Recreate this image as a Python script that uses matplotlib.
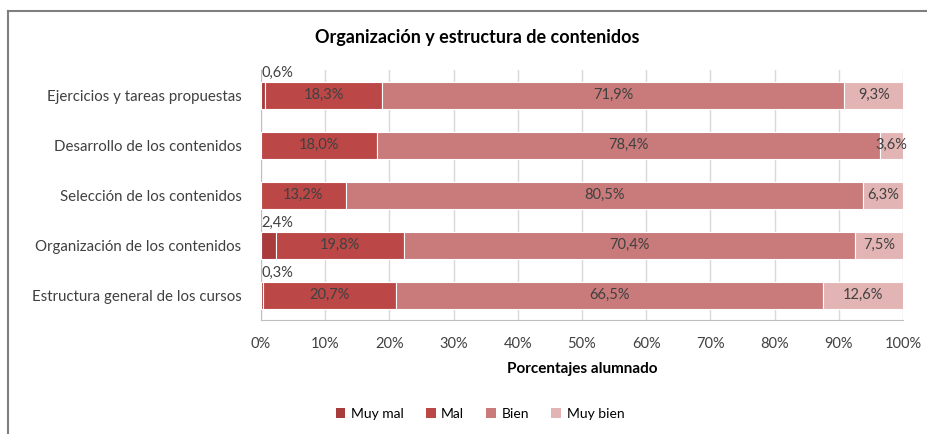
import matplotlib.pyplot as plt
from matplotlib.lines import Line2D
from matplotlib.patches import Patch

plt.rcParams['font.family'] = ['Lato', 'DejaVu Sans']

categories = [
    "Ejercicios y tareas propuestas",
    "Desarrollo de los contenidos",
    "Selección de los contenidos",
    "Organización de los contenidos",
    "Estructura general de los cursos",
]
series = ["Muy mal", "Mal", "Bien", "Muy bien"]
muy_mal = [0.6, 0.0, 0.0, 2.4, 0.3]
mal = [18.3, 18.0, 13.2, 19.8, 20.7]
bien = [71.9, 78.4, 80.5, 70.4, 66.5]
muy_bien = [9.3, 3.6, 6.3, 7.5, 12.6]
colors = ["#A83C3C", "#BC4747", "#C97A7A", "#E3B4B4"]

fig = plt.figure(figsize=(9.27, 4.34), dpi=100)
ax = fig.add_axes([261 / 927, 1 - 320 / 434, 642 / 927, 250 / 434])

y = list(range(len(categories)))[::-1]
left = [0.0] * len(categories)
txt = "#404040"
for name, vals, col in zip(series, [muy_mal, mal, bien, muy_bien], colors):
    ax.barh(y, vals, left=left, height=0.54, color=col, edgecolor="white",
            linewidth=0.8, zorder=3)
    for yi, l, v in zip(y, left, vals):
        if v == 0:
            continue
        s = f"{v:.1f}%".replace(".", ",")
        if name == "Muy mal":
            ax.text(l, yi + 0.3, s, ha="left", va="bottom", fontsize=10.5,
                    color=txt, zorder=4)
        else:
            ax.text(l + v / 2, yi, s, ha="center", va="center", fontsize=10.5,
                    color=txt, zorder=4)
    left = [a + b for a, b in zip(left, vals)]

ax.set_xlim(0, 100)
ax.set_ylim(-0.5, len(categories) - 0.5)
ax.set_yticks(y)
ax.set_yticklabels(categories, fontsize=10.8, color=txt)
ax.set_xticks(range(0, 101, 10))
ax.set_xticklabels([f"{v}%" for v in range(0, 101, 10)], fontsize=10.5, color=txt)
ax.tick_params(axis="both", length=0, pad=12)
ax.tick_params(axis="y", pad=14)
ax.grid(axis="x", color="#D9D9D9", linewidth=1, zorder=0)
for s in ["top", "right"]:
    ax.spines[s].set_visible(False)
for s in ["left", "bottom"]:
    ax.spines[s].set_color("#BFBFBF")
ax.set_xlabel("Porcentajes alumnado", fontsize=11, fontweight="bold",
              color="black", labelpad=8)

fig.text(477 / 927, 1 - 38 / 434, "Organización y estructura de contenidos",
         ha="center", va="center", fontsize=13, fontweight="bold")

handles = [Patch(facecolor=c, edgecolor="none") for c in colors]
fig.legend(handles, series, loc="center", bbox_to_anchor=(480 / 927, 1 - 414 / 434),
           ncol=4, frameon=False, fontsize=10, handlelength=0.7, handleheight=0.7,
           columnspacing=1.6, handletextpad=0.4)

# outer frame (left and top edges visible)
fig.add_artist(Line2D([8 / 927, 8 / 927], [0, 1 - 11 / 434], color="#7F7F7F", lw=1.5))
fig.add_artist(Line2D([8 / 927, 1], [1 - 11 / 434, 1 - 11 / 434], color="#7F7F7F", lw=1.5))

fig.savefig("out.png", dpi=100)
